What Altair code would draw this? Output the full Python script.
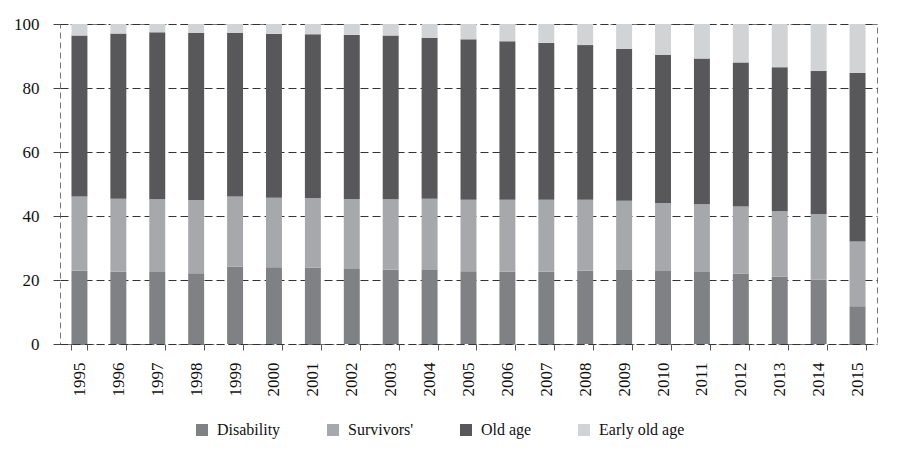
import altair as alt
import pandas as pd

years = [str(y) for y in range(1995, 2016)]
categories = ["Disability", "Survivors'", "Old age", "Early old age"]
colors = ["#808185", "#a7a8ab", "#58585a", "#d2d3d5"]

disability = [22.9, 22.6, 22.5, 22.1, 24.2, 24.0, 23.8, 23.4, 23.2, 23.1, 22.7,
              22.6, 22.6, 22.9, 23.1, 22.8, 22.5, 22.0, 21.0, 20.1, 11.8]
survivors = [23.2, 22.8, 22.7, 22.9, 21.9, 21.7, 21.8, 21.9, 22.0, 22.3, 22.4,
             22.5, 22.5, 22.2, 21.7, 21.3, 21.2, 21.0, 20.5, 20.5, 20.2]
old_age = [50.3, 51.6, 52.2, 52.2, 51.2, 51.2, 51.2, 51.3, 51.2, 50.3, 50.1,
           49.5, 49.0, 48.3, 47.4, 46.3, 45.5, 45.0, 45.0, 44.7, 52.8]
early_old_age = [3.6, 3.0, 2.6, 2.8, 2.7, 3.1, 3.2, 3.4, 3.6, 4.3, 4.8,
                 5.4, 5.9, 6.6, 7.8, 9.6, 10.8, 12.0, 13.5, 14.7, 15.2]

series = [disability, survivors, old_age, early_old_age]
rows = []
for ci, (cat, vals) in enumerate(zip(categories, series)):
    for y, v in zip(years, vals):
        rows.append({"year": y, "type": cat, "value": v, "ord": ci})
df = pd.DataFrame(rows)

FONT = "Liberation Serif"

chart = alt.Chart(df).mark_bar().encode(
    x=alt.X("year:N", title=None,
            scale=alt.Scale(paddingInner=0.59, paddingOuter=0.295),
            axis=alt.Axis(labelAngle=-90, tickBand="extent", domain=False,
                          ticks=True, tickSize=6, tickColor="#555",
                          labelPadding=12, labelFont=FONT, labelFontSize=17,
                          labelColor="#111")),
    y=alt.Y("value:Q", title=None, stack="zero",
            scale=alt.Scale(domain=[0, 100], nice=False),
            axis=alt.Axis(values=[0, 20, 40, 60, 80, 100], domain=False,
                          tickSize=7, tickColor="#444", labelPadding=14,
                          labelFont=FONT, labelFontSize=17, labelColor="#111",
                          grid=True, gridColor="#333", gridDash=[8, 4],
                          gridWidth=1)),
    color=alt.Color("type:N", sort=categories,
                    scale=alt.Scale(domain=categories, range=colors),
                    legend=alt.Legend(title=None, orient="none", direction="horizontal",
                                      legendX=134, legendY=398,
                                      symbolType="square", symbolSize=144,
                                      symbolStrokeWidth=0, columnPadding=44,
                                      labelOffset=7, labelFont=FONT,
                                      labelFontSize=16, labelColor="#111")),
    order=alt.Order("ord:Q", sort="ascending"),
).properties(
    width=817, height=320,
    autosize=alt.AutoSizeParams(type="none"),
    padding={"left": 52, "top": 16, "right": 10, "bottom": 95},
).configure_view(
    stroke="#777", strokeDash=[6, 4], strokeWidth=1
)

chart.save("out.html", embed_options={"renderer": "svg", "actions": False})
